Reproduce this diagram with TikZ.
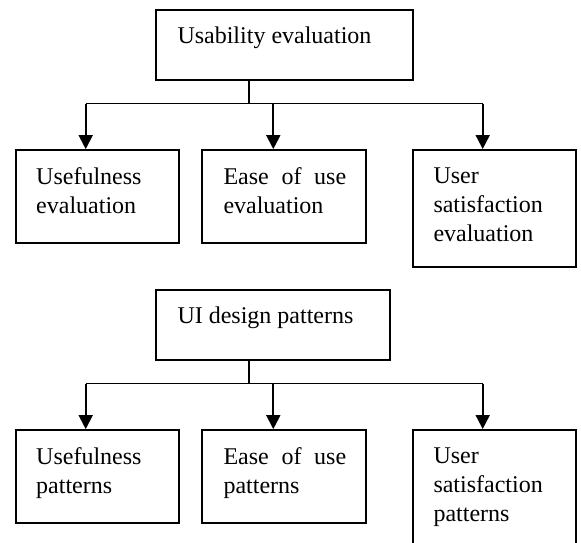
\documentclass[tikz,border=0pt]{standalone}
\usepackage{fontspec}
\setmainfont{Liberation Serif}
\usetikzlibrary{arrows.meta}
\tikzstyle{ubox}=[rectangle, draw, line width=1.9pt, inner sep=0pt]
\tikzstyle{utxt}=[anchor=north west, inner sep=0pt, align=left, font=\fontsize{24}{29.3}\selectfont]
\tikzstyle{uline}=[line width=1.9pt]
\tikzstyle{uarr}=[line width=1.9pt, -{Triangle[width=14pt,length=14pt]}]

\begin{document}
\begin{tikzpicture}[x=1pt, y=-1pt]
\useasboundingbox (0,0) rectangle (581,542);
\clip (0,0) rectangle (581,542);

% usability evaluation
\node[ubox, minimum width=257.3pt, minimum height=70pt] (u0) at (284.7,45) {};
\node[utxt] (tu0) at (177.3,27) {Usability evaluation};

\node[ubox, minimum width=163.6pt, minimum height=93.3pt] (u1) at (97.5,196.7) {};
\node[ubox, minimum width=163.7pt, minimum height=93.3pt] (u2) at (284.2,196.7) {};
\node[ubox, minimum width=163.5pt, minimum height=116.7pt] (u3) at (494.3,208.3) {};
\node[utxt] (tu1) at (36,167) {Usefulness\\evaluation};
\node[utxt] (tu2) at (223.3,167) {\makebox[122.7pt][s]{Ease of use}\\evaluation};
\node[utxt] (tu3) at (433.3,167.4) {User\\satisfaction\\evaluation};

\coordinate (us) at (249.3,103.5);
\coordinate (ua) at (85.7,103.5);
\coordinate (ub) at (273.3,103.5);
\coordinate (uc) at (482.7,103.5);

\draw[uline] (us |- u0.south) -- (us);
\draw[uline] (ua) -- (uc);
\draw[uarr] (ua) -- (ua |- u1.north);
\draw[uarr] (ub) -- (ub |- u2.north);
\draw[uarr] (uc) -- (uc |- u3.north);

% ui design patterns
\node[ubox, minimum width=234pt, minimum height=70pt] (p0) at (273,325) {};
\node[utxt] (tp0) at (177.3,307) {UI design patterns};

\node[ubox, minimum width=163.6pt, minimum height=93.3pt] (p1) at (97.5,476.7) {};
\node[ubox, minimum width=163.7pt, minimum height=93.3pt] (p2) at (284.2,476.7) {};
\node[ubox, minimum width=163.5pt, minimum height=116.7pt] (p3) at (494.3,488.3) {};
\node[utxt] (tp1) at (36,447) {Usefulness\\patterns};
\node[utxt] (tp2) at (223.3,447) {\makebox[122.7pt][s]{Ease of use}\\patterns};
\node[utxt] (tp3) at (433.3,447.4) {User\\satisfaction\\patterns};

\coordinate (ps) at (249.3,383.5);
\coordinate (pa) at (85.7,383.5);
\coordinate (pb) at (273.3,383.5);
\coordinate (pc) at (482.7,383.5);

\draw[uline] (ps |- p0.south) -- (ps);
\draw[uline] (pa) -- (pc);
\draw[uarr] (pa) -- (pa |- p1.north);
\draw[uarr] (pb) -- (pb |- p2.north);
\draw[uarr] (pc) -- (pc |- p3.north);

\end{tikzpicture}
\end{document}
